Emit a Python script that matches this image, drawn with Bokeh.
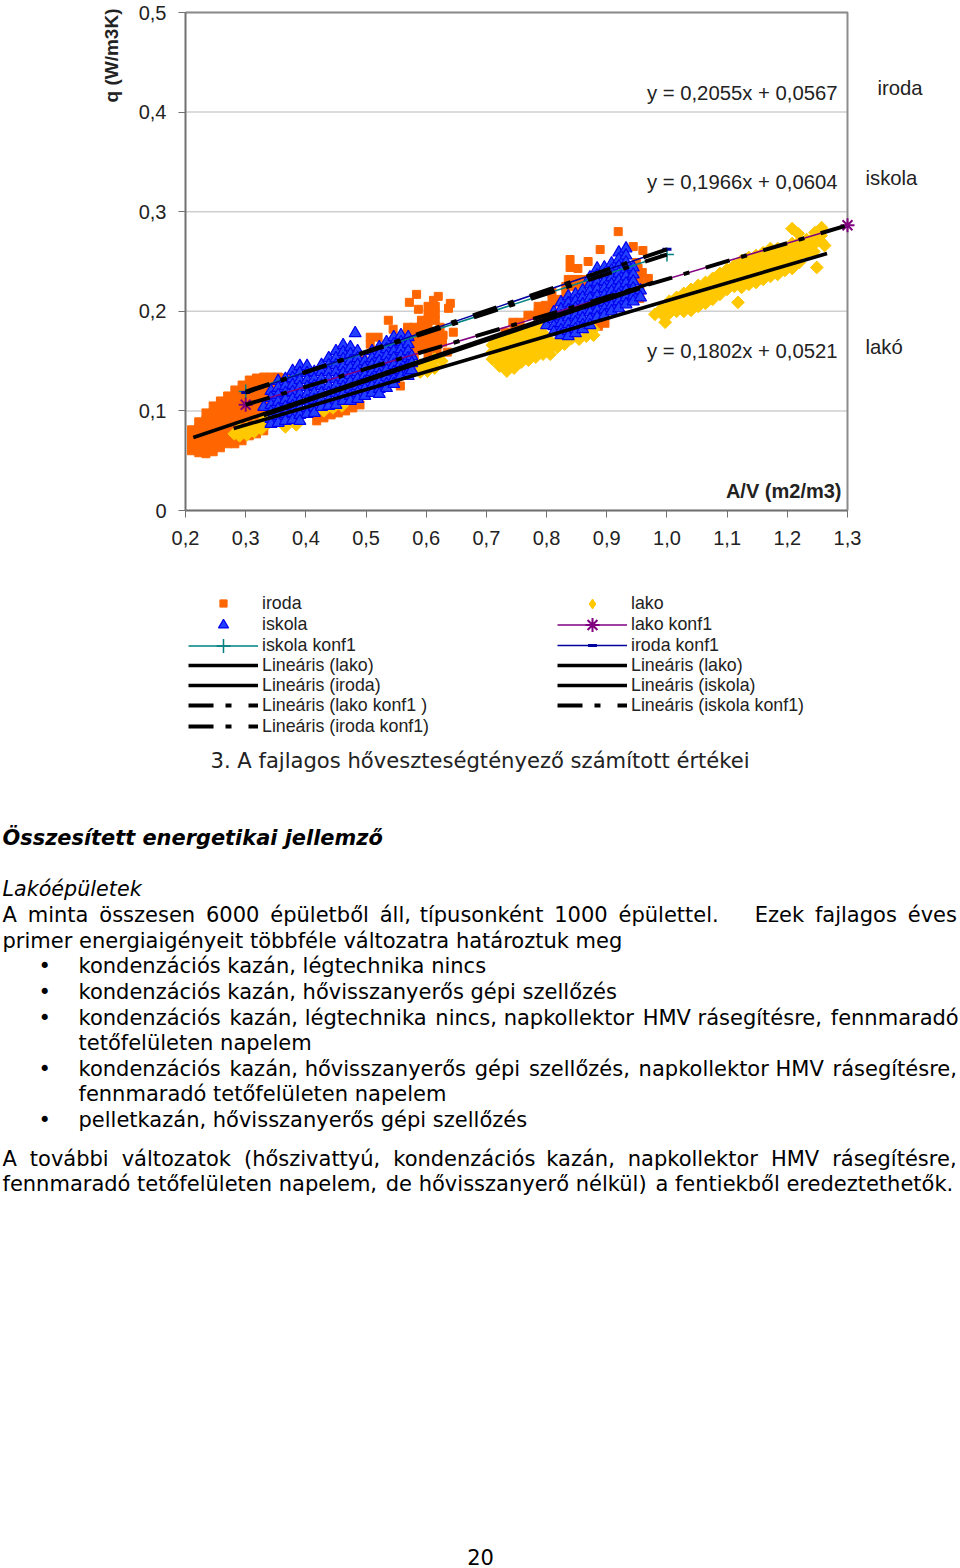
from bokeh.plotting import figure
from bokeh.models import Range1d, FixedTicker, Label, Legend, LegendItem
from bokeh.embed import file_html
from bokeh.resources import INLINE
import math

# ---------- tick labels ----------
x_ticks = [0.2, 0.3, 0.4, 0.5, 0.6, 0.7, 0.8, 0.9, 1.0, 1.1, 1.2, 1.3]
x_tick_labels = ["0,2", "0,3", "0,4", "0,5", "0,6", "0,7", "0,8", "0,9", "1,0", "1,1", "1,2", "1,3"]
y_ticks = [0, 0.1, 0.2, 0.3, 0.4, 0.5]
y_tick_labels = ["0", "0,1", "0,2", "0,3", "0,4", "0,5"]

# ---------- iroda (office) cloud: columns of points ----------
iroda_col_x = [0.21, 0.222, 0.234, 0.246, 0.258, 0.27, 0.282, 0.294, 0.306, 0.318, 0.33, 0.342, 0.354, 0.366]
iroda_col_y = [
    [.081, .074, .067, .060],
    [.089, .082, .075, .068, .061, .058],
    [.098, .091, .084, .077, .070, .063, .057],
    [.105, .098, .091, .084, .077, .070, .063, .059],
    [.110, .103, .096, .089, .082, .075, .068, .063],
    [.115, .108, .101, .094, .087, .080, .073, .067],
    [.121, .114, .107, .100, .093, .086, .079, .072, .067],
    [.126, .119, .112, .105, .098, .091, .084, .077, .070],
    [.131, .124, .117, .110, .103, .096, .089, .082, .075],
    [.133, .126, .119, .112, .105, .098, .091, .084, .077],
    [.134, .127, .120, .113, .106, .099, .092, .085, .080],
    [.134, .127, .120, .088],
    [.134, .127, .120],
    [.133, .126],
]
iroda_x2 = [.418, .43, .442, .454, .466, .478, .49,
            .584, .572, .612, .620, .640, .637, .587, .537, .507, .520, .507,
            .603, .615, .603, .615, .603, .615, .592, .623, .603, .592, .580, .569, .545,
            .615, .603, .592, .580, .569, .645, .628,
            .592, .603, .615, .580, .603, .592, .615, .580, .635, .627,
            .495, .557, .58, .603, .618]
iroda_y2 = [.090, .093, .096, .098, .100, .103, .106,
            .217, .209, .211, .215, .208, .203, .202, .191, .174, .174, .167,
            .205, .205, .198, .198, .191, .191, .191, .184, .184, .184, .184, .184, .182,
            .177, .177, .177, .177, .177, .179, .176,
            .170, .170, .170, .170, .163, .163, .163, .163, .159, .169,
            .151, .125, .156, .156, .159]
iroda_x3 = [.919, .839, .839, .869, .852, .889, .944, .960, .952, .969, .955, .947,
            .836, .849, .862, .832, .846, .859, .832, .809, .809, .819, .798, .809,
            .786, .798, .786, .769, .779, .744, .731, .736, .756, .746, .897, .886,
            .949, .959, .955, .955]
iroda_y3 = [.280, .252, .244, .250, .243, .262, .265, .261, .243, .233, .221, .219,
            .232, .232, .232, .225, .225, .228, .219, .219, .212, .212, .206, .205,
            .205, .199, .199, .196, .196, .189, .179, .174, .189, .183, .188, .185,
            .249, .239, .231, .213]

# ---------- lako (residential) cloud ----------
lako_col_x = [.71, .722, .734, .746, .758, .77, .782, .794, .806, .818, .83, .842, .854, .866, .878,
              .98, .992, 1.004, 1.016, 1.028, 1.04, 1.052, 1.064, 1.076, 1.088, 1.1, 1.112, 1.124, 1.136,
              1.148, 1.16, 1.172, 1.184, 1.196, 1.208, 1.22, 1.232, 1.244, 1.256]
lako_col_y = [
    [.166, .159, .152],
    [.170, .163, .156, .149, .145],
    [.172, .165, .158, .151, .144, .140],
    [.175, .168, .161, .154, .147, .143],
    [.177, .170, .163, .156, .149],
    [.179, .172, .165, .158, .151],
    [.182, .175, .168, .161, .154],
    [.185, .178, .171, .164, .157],
    [.170, .163, .157],
    [.170, .164],
    [.172, .167],
    [.173],
    [.172],
    [.175],
    [.182, .176],
    [.197],
    [.203, .197],
    [.210, .204, .198],
    [.214, .207, .200],
    [.218, .211, .204, .200],
    [.222, .215, .208, .201],
    [.226, .219, .212, .205],
    [.229, .222, .215, .208],
    [.233, .226, .219, .212],
    [.238, .231, .224, .217],
    [.242, .235, .228, .222],
    [.246, .239, .232, .225],
    [.251, .244, .237, .230, .224],
    [.254, .247, .240, .233, .227],
    [.256, .249, .242, .235, .229],
    [.259, .252, .245, .238, .232],
    [.263, .256, .249, .242, .235],
    [.263, .256, .249, .242, .237],
    [.262, .255, .248, .241],
    [.268, .261, .254, .247, .243],
    [.270, .263, .256, .249],
    [.272, .265, .258],
    [.274, .267, .260],
    [.276, .270],
]
lako_x2 = [.281, .29, .29, .302, .302, .314, .314, .326, .326, .338, .338, .35, .366, .384,
           .43, .445, .46,
           .577, .59, .602, .614, .59, .602, .614, .626,
           .997, 1.118, 1.249, 1.262, 1.208, 1.218, 1.257, 1.246]
lako_y2 = [.077, .075, .082, .076, .083, .079, .085, .082, .088, .088, .094, .090, .084, .086,
           .100, .103, .105,
           .142, .146, .148, .152, .139, .140, .143, .150,
           .189, .209, .244, .266, .283, .278, .284, .279]

# ---------- iskola (school) cloud ----------
iskola_col_x = [.33, .342, .354, .366, .378, .39, .402, .414, .426, .438, .45, .462, .474, .486, .498,
                .51, .522, .534, .546, .558, .57, .576,
                .8, .812, .824, .836, .848, .86, .872, .884, .896, .908, .92, .932, .944, .956]
iskola_col_y = [
    [.104],
    [.120, .113, .106, .099, .092, .087],
    [.130, .123, .116, .109, .102, .095, .088],
    [.132, .125, .118, .111, .104, .097, .090],
    [.140, .133, .126, .119, .112, .105, .098, .091],
    [.145, .138, .131, .124, .117, .110, .103, .096, .090],
    [.145, .138, .131, .124, .117, .110, .103, .097],
    [.139, .132, .125, .118, .111, .104, .098],
    [.146, .139, .132, .125, .118, .111, .104],
    [.153, .146, .139, .132, .125, .118, .111, .105],
    [.160, .153, .146, .139, .132, .125, .118, .111, .106],
    [.166, .159, .152, .145, .138, .131, .124, .117, .110],
    [.164, .157, .150, .143, .136, .129, .122, .115, .110],
    [.160, .153, .146, .139, .132, .125, .118, .112],
    [.150, .143, .136, .129, .122, .115],
    [.160, .153, .146, .139, .132, .125, .118],
    [.164, .157, .150, .143, .136, .129, .122, .117],
    [.169, .162, .155, .148, .141, .134, .127, .123],
    [.174, .167, .160, .153, .146, .139, .132, .127],
    [.176, .169, .162, .155, .148, .141, .135],
    [.174, .167, .160, .153, .146, .139, .135],
    [.155, .148, .141],
    [.186],
    [.199, .192, .185, .179],
    [.209, .202, .195, .188, .181, .176],
    [.215, .208, .201, .194, .187, .180, .175],
    [.217, .210, .203, .196, .189, .182, .178],
    [.221, .214, .207, .200, .193, .186, .182],
    [.234, .227, .220, .213, .206, .199, .192, .186],
    [.243, .236, .229, .222, .215, .208, .201, .194],
    [.244, .237, .230, .223, .216, .209, .202, .196],
    [.248, .241, .234, .227, .220, .213, .206, .200],
    [.259, .252, .245, .238, .231, .224, .217, .210, .203],
    [.263, .256, .249, .242, .235, .228, .221, .214, .207],
    [.244, .237, .230, .223, .216, .210],
    [.221, .214],
]
iskola_x2 = [.482]
iskola_y2 = [.178]

# ---------- konf1 series ----------
iroda_konf_x = [0.3, 1.0]
iroda_konf_y = [0.1184, 0.2622]
iskola_konf_x = [0.3, 1.0]
iskola_konf_y = [0.1194, 0.2570]
lako_konf_x = [0.3, 1.3]
lako_konf_y = [0.1062, 0.2864]

# ---------- solid trend lines ----------
iroda_trend_x = [0.213, 0.977]
iroda_trend_y = [0.0733, 0.229]
lako_trend_x = [0.280, 1.266]
lako_trend_y = [0.0823, 0.258]
iskola_trend_x = [0.330, 0.955]
iskola_trend_y = [0.0954, 0.2229]

# ---------- texts ----------
equations = ["y = 0,2055x + 0,0567", "y = 0,1966x + 0,0604", "y = 0,1802x + 0,0521"]
side_names = ["iroda", "iskola", "lakó"]
figure_caption = "3. A fajlagos hőveszteségtényező számított értékei"
heading = "Összesített energetikai jellemző"
subheading = "Lakóépületek"
body_lines = [
    "A minta összesen 6000 épületből áll, típusonként 1000 épülettel. Ezek fajlagos éves",
    "primer energiaigényeit többféle változatra határoztuk meg",
    "kondenzációs kazán, légtechnika nincs",
    "kondenzációs kazán, hővisszanyerős gépi szellőzés",
    "kondenzációs kazán, légtechnika nincs, napkollektor HMV rásegítésre, fennmaradó",
    "tetőfelületen napelem",
    "kondenzációs kazán, hővisszanyerős gépi szellőzés, napkollektor HMV rásegítésre,",
    "fennmaradó tetőfelületen napelem",
    "pelletkazán, hővisszanyerős gépi szellőzés",
    "A további változatok (hőszivattyú, kondenzációs kazán, napkollektor HMV rásegítésre,",
    "fennmaradó tetőfelületen napelem, de hővisszanyerő nélkül) a fentiekből eredeztethetők.",
]
page_number = "20"

# ---------- layout (page pixels) ----------
L, R, T, B = 185, 847, 12, 510
W, H = 960, 1568
PX_X = (R - L) / 1.1
PX_Y = (B - T) / 0.5
line_x = [2, 2, 78, 78, 78, 78, 78, 78, 78, 2, 2]
line_mid = [914, 940, 965, 991, 1017, 1042, 1068, 1093, 1119, 1158, 1183]
line_hairs = [21, 0, 0, 0, 4, 0, 5, 0, 0, 23, 2]   # thin fill spaces for justified lines
bullet_rows = [2, 3, 4, 6, 8]
ARIAL = "Liberation Sans"
VERD = "DejaVu Sans"
GREY = "#8c8c8c"


def data_x(px):
    return 0.2 + (px - L) / PX_X


def data_y(py):
    return (B - py) / PX_Y


p = figure(width=W, height=H, output_backend="svg", toolbar_location=None,
           x_range=Range1d(data_x(0), data_x(W)), y_range=Range1d(data_y(H), data_y(0)),
           min_border=0)
p.margin = (0, -8, -8, 0)
p.background_fill_color = "white"
p.outline_line_color = None

for ax, ticks, labels in ((p.xaxis[0], x_ticks, x_tick_labels), (p.yaxis[0], y_ticks, y_tick_labels)):
    ax.ticker = FixedTicker(ticks=ticks)
    ax.major_label_overrides = dict(zip(ticks, labels))
    ax.major_label_text_font = ARIAL
    ax.major_label_text_font_size = "20px"
    ax.major_label_text_color = "#222222"
    ax.axis_line_color = "#707070"
    ax.axis_line_width = 2
    ax.major_tick_line_color = "#707070"
    ax.major_tick_in = 0
    ax.major_tick_out = 7
    ax.minor_tick_line_color = None
p.xaxis[0].fixed_location = 0
p.xaxis[0].bounds = (0.2, 1.3)
p.yaxis[0].fixed_location = 0.2
p.yaxis[0].bounds = (0, 0.5)
p.xaxis[0].major_label_standoff = 13
p.yaxis[0].major_label_standoff = 12
p.xgrid.visible = False
p.ygrid.visible = False
# horizontal gridlines stop at the plot box, so they are drawn from the y ticks
p.segment(x0=[0.2] * len(y_ticks), y0=y_ticks, x1=[1.3] * len(y_ticks), y1=y_ticks,
          line_color="#cfcfcf", line_width=1.5)
# top and right edges of the plot box
p.line([0.2, 1.3, 1.3], [0.5, 0.5, 0], line_color=GREY, line_width=2)


def expand(cols_x, cols_y, extra_x=(), extra_y=()):
    xs, ys = [], []
    for cx, cy in zip(cols_x, cols_y):
        for v in cy:
            xs.append(cx)
            ys.append(v)
    return xs + list(extra_x), ys + list(extra_y)


ix, iy = expand(iroda_col_x, iroda_col_y, iroda_x2 + iroda_x3, iroda_y2 + iroda_y3)
lx, ly = expand(lako_col_x, lako_col_y, lako_x2, lako_y2)
sx, sy = expand(iskola_col_x, iskola_col_y, iskola_x2, iskola_y2)

r_iroda = p.scatter(ix, iy, marker="square", size=8, color="#FF6600")
r_lako = p.scatter(lx, ly, marker="square", angle=math.pi / 4, size=9, color="#FFC800")
r_iskola = p.scatter(sx, sy, marker="triangle", size=12, fill_color="#2440FF", line_color="#0000F0", line_width=1.2)
# the legend key of the lako cloud: a diamond with one empty (NaN) point, which draws nothing in the plot
k_lako = p.scatter([math.nan], [math.nan], marker="diamond", size=9, color="#FFC800")

l_iskola_k = p.line(iskola_konf_x, iskola_konf_y, line_color="#008080", line_width=1.5)
m_iskola_k = p.scatter(iskola_konf_x, iskola_konf_y, marker="cross", size=14, line_color="#008080", line_width=1.5)
l_lako_k = p.line(lako_konf_x, lako_konf_y, line_color="#800080", line_width=1.5)
m_lako_k = p.scatter(lako_konf_x, lako_konf_y, marker="asterisk", size=14, line_color="#800080", line_width=2)
l_iroda_k = p.line(iroda_konf_x, iroda_konf_y, line_color="#0000A0", line_width=1.5)
m_iroda_k = p.scatter(iroda_konf_x, iroda_konf_y, marker="dash", size=9, line_color="#0000A0", line_width=3)

DASH = "25 12 6 17"
t_lako = p.line(lako_trend_x, lako_trend_y, line_color="black", line_width=3.6)
t_iroda = p.line(iroda_trend_x, iroda_trend_y, line_color="black", line_width=3.6)
t_iskola = p.line(iskola_trend_x, iskola_trend_y, line_color="black", line_width=3.6)
t_lako_k = p.line(lako_konf_x, lako_konf_y, line_color="black", line_width=4, line_dash=DASH)
t_iroda_k = p.line(iroda_konf_x, iroda_konf_y, line_color="black", line_width=4, line_dash=DASH)
t_iskola_k = p.line(iskola_konf_x, iskola_konf_y, line_color="black", line_width=4, line_dash=DASH)


def legend_row(text, rends, px, mid, key_h=20):
    # each row is its own legend, so that the row pitch and the key size follow the reference
    box = max(key_h, 21)
    p.add_layout(Legend(items=[LegendItem(label=text, renderers=rends)],
                        location=(px, H - mid - box / 2), orientation="vertical",
                        glyph_width=70, glyph_height=key_h, label_height=20, spacing=0, padding=0, margin=0,
                        label_standoff=4, label_text_font=ARIAL, label_text_font_size="17.8px",
                        label_text_color="#222222", border_line_color=None, background_fill_alpha=0,
                        click_policy="none"), "center")


left_rows = [("iroda", [r_iroda], 18), ("iskola", [r_iskola], 25),
             ("iskola konf1", [l_iskola_k, m_iskola_k], 35),
             ("Lineáris (lako)", [t_lako], 20), ("Lineáris (iroda)", [t_iroda], 20),
             ("Lineáris (lako konf1 )", [t_lako_k], 20), ("Lineáris (iroda konf1)", [t_iroda_k], 20)]
right_rows = [("lako", [k_lako], 25), ("lako konf1", [l_lako_k, m_lako_k], 35),
              ("iroda konf1", [l_iroda_k, m_iroda_k], 22),
              ("Lineáris (lako)", [t_lako], 20), ("Lineáris (iskola)", [t_iskola], 20),
              ("Lineáris (iskola konf1)", [t_iskola_k], 20)]
row_mid = [603, 624, 645, 665, 685, 705, 726]
for (t, rr, kh), m in zip(left_rows, row_mid):
    legend_row(t, rr, 188, m, kh)
for (t, rr, kh), m in zip(right_rows, row_mid):
    legend_row(t, rr, 557, m, kh)


def put(text, px, py, font=ARIAL, size=20.3, style="normal", align="left", angle=0, color="#222222"):
    # py is the vertical middle of the text on the page
    p.add_layout(Label(x=data_x(px), y=data_y(py), x_units="data", y_units="data",
                       text=text, text_font=font, text_font_size=f"{size}px", text_font_style=style,
                       text_align=align, text_baseline="alphabetic", angle=angle,
                       text_color=color))


def justified(text, hairs, wide_gap=None):
    # widen the word gaps with hair spaces, as the justified lines of the reference are
    words = text.split(" ")
    gaps = len(words) - 1
    out = words[0]
    done = 0
    for i, w in enumerate(words[1:], 1):
        n = round(hairs * i / gaps) - done if gaps else 0
        done += n
        extra = 12 if wide_gap == i - 1 else 0
        out += " " + "\u200a" * (n + extra) + w
    return out


put("q (W/m3K)", 111, 55, size=19, style="bold", align="center", angle=1.5708)
put("A/V (m2/m3)", 841, 490, size=20, style="bold", align="right")
for t, py in zip(equations, (92, 181, 350)):
    put(t, 837, py, align="right")
for t, px, py in zip(side_names, (877, 865, 865), (87, 177, 346)):
    put(t, px, py)

put(figure_caption, 210, 760, font=VERD, size=21.1)
put(heading, 2, 837, font=VERD, size=20.9, style="bold italic", color="black")
put(subheading, 2, 888, font=VERD, size=20.7, style="italic", color="black")
for i, (t, px, py, h) in enumerate(zip(body_lines, line_x, line_mid, line_hairs)):
    put(justified(t, h, 8 if i == 0 else None), px, py, font=VERD, size=21, color="black")
for r in bullet_rows:
    put("•", 38, line_mid[r], font=VERD, size=21, color="black")
put(page_number, 480, 1556, font=VERD, size=21, align="center", color="black")

open("out.html", "w").write(file_html(p, INLINE))
